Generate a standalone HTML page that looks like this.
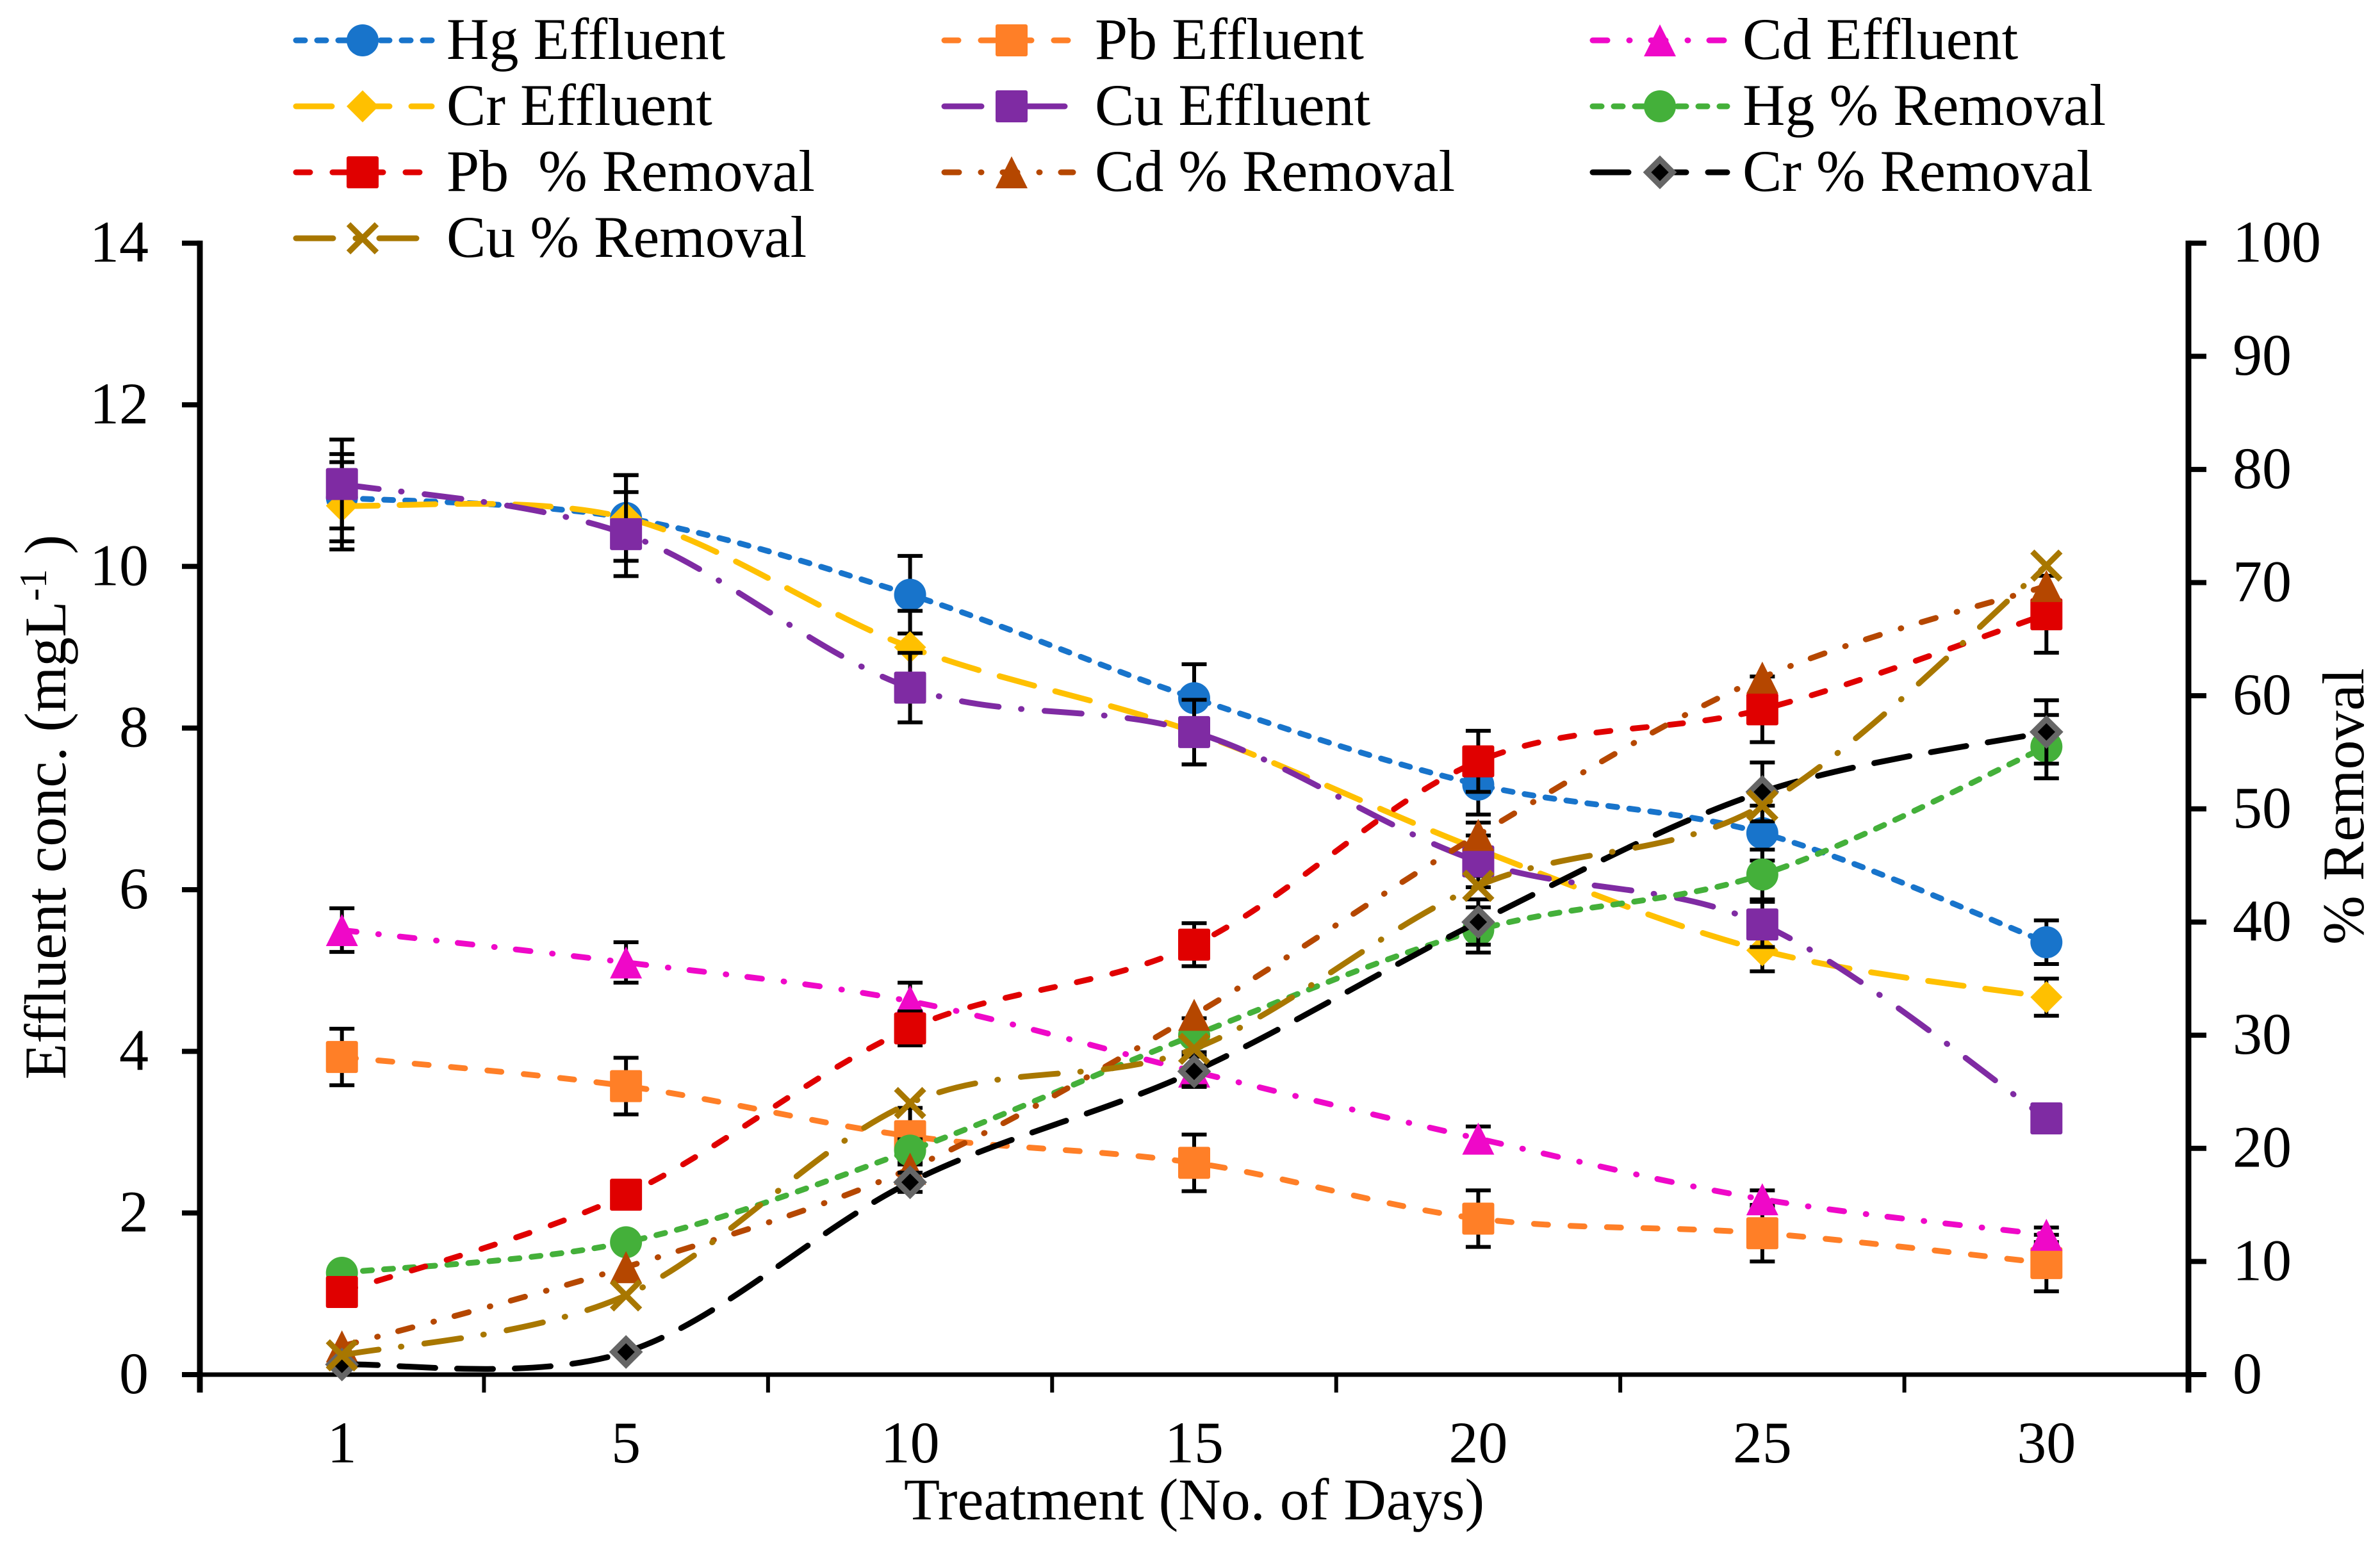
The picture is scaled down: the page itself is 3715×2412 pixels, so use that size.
<!DOCTYPE html>
<html lang="en">
<head>
<meta charset="utf-8">
<title>Effluent concentration and percent removal</title>
<style>
html,body{margin:0;padding:0;background:#fff;}
svg{display:block;}
text{font-family:"Liberation Serif",serif;fill:#000;}
</style>
</head>
<body>
<svg id="chart" xmlns="http://www.w3.org/2000/svg" width="3715" height="2412" viewBox="0 0 3715 2412">
  <rect width="3715" height="2412" fill="#fff"/>
  <text x="1864" y="2372" font-size="92" text-anchor="middle">Treatment (No. of Days)</text>
  <text x="0" y="0" font-size="92" text-anchor="middle" transform="translate(102 1260) rotate(-90)">Effluent conc. (mgL<tspan font-size="60" dy="-30">-1</tspan><tspan dy="30"> )</tspan></text>
  <text x="0" y="0" font-size="92" text-anchor="middle" transform="translate(3689 1259) rotate(-90)">% Removal</text>
</svg>
<script>
const days = ['1','5','10','15','20','25','30'];
const leftTicks = [0,2,4,6,8,10,12,14];
const rightTicks = [0,10,20,30,40,50,60,70,80,90,100];

const hgEffluent = [10.85,10.6,9.65,8.37,7.3,6.7,5.35];
const pbEffluent = [3.93,3.57,2.95,2.62,1.93,1.75,1.38];
const cdEffluent = [5.5,5.1,4.62,3.75,2.92,2.17,1.73];
const crEffluent = [10.75,10.6,9.0,7.95,6.5,5.25,4.67];
const cuEffluent = [11.02,10.4,8.5,7.95,6.35,5.57,3.17];
const hgRemoval = [9.0,11.7,19.8,30,39.3,44.2,55.5];
const pbRemoval = [7.3,15.9,30.6,38,54.2,58.8,67.2];
const cdRemoval = [2.5,9.5,18.2,31.8,47.7,61.6,69.7];
const crRemoval = [0.9,2,17,26.8,40,51.5,56.8];
const cuRemoval = [1.7,7,24,28.8,43.2,50.3,71.5];

const hgEffluentErr = [0.54,0.53,0.48,0.42,0.37,0.34,0.27];
const pbEffluentErr = [0.35,0.35,0.35,0.35,0.35,0.35,0.35];
const cdEffluentErr = [0.27,0.25,0.23,0.19,0.15,0.11,0.09];
const crEffluentErr = [0.54,0.53,0.45,0.40,0.33,0.26,0.23];
const cuEffluentErr = [0.55,0.52,0.43,0.40,0.32,0.28,0.16];
const hgRemovalErr = [0.45,0.6,1,1.5,2,2.2,2.8];
const pbRemovalErr = [0.37,0.8,1.5,1.9,2.7,2.9,3.4];
const cdRemovalErr = [0,0,0,0,0,0,0];
const crRemovalErr = [0.05,0.1,0.85,1.3,2,2.6,2.8];
const cuRemovalErr = [0,0,0,0,0,0,0];

const seriesList = [
  {key:'hg-effluent',label:'Hg Effluent',values:hgEffluent,errs:hgEffluentErr,axis:'left',color:'#1874cb',dash:'14 19',marker:'circle'},
  {key:'pb-effluent',label:'Pb Effluent',values:pbEffluent,errs:pbEffluentErr,axis:'left',color:'#ff7f27',dash:'22 35',marker:'square'},
  {key:'cd-effluent',label:'Cd Effluent',values:cdEffluent,errs:cdEffluentErr,axis:'left',color:'#ef08c8',dash:'23 34 1 33',marker:'triangle'},
  {key:'cr-effluent',label:'Cr Effluent',values:crEffluent,errs:crEffluentErr,axis:'left',color:'#ffc000',dash:'56 34',marker:'diamond'},
  {key:'cu-effluent',label:'Cu Effluent',values:cuEffluent,errs:cuEffluentErr,axis:'left',color:'#7f2ba3',dash:'58 35 1 36',marker:'square'},
  {key:'hg-removal',label:'Hg % Removal',values:hgRemoval,errs:hgRemovalErr,axis:'right',color:'#44b03a',dash:'14 19',marker:'circle'},
  {key:'pb-removal',label:'Pb  % Removal',values:pbRemoval,errs:pbRemovalErr,axis:'right',color:'#e00000',dash:'22 35',marker:'square'},
  {key:'cd-removal',label:'Cd % Removal',values:cdRemoval,errs:cdRemovalErr,axis:'right',color:'#b54700',dash:'23 34 1 33',marker:'triangle'},
  {key:'cr-removal',label:'Cr % Removal',values:crRemoval,errs:crRemovalErr,axis:'right',color:'#000000',dash:'56 34',marker:'grayDiamond'},
  {key:'cu-removal',label:'Cu % Removal',values:cuRemoval,errs:cuRemovalErr,axis:'right',color:'#a87700',dash:'58 35 1 36',marker:'cross'}
];
const legendOrder = ['hg-effluent','pb-effluent','cd-effluent','cr-effluent','cu-effluent','hg-removal','pb-removal','cd-removal','cr-removal','cu-removal'];

const NS = 'http://www.w3.org/2000/svg';
const svg = document.getElementById('chart');
const plot = {left:312, right:3416, top:379.6, bottom:2146};

function xScale(i){ return plot.left + (plot.right - plot.left) / days.length * (i + 0.5); }
function yLeft(v){ return plot.bottom - (plot.bottom - plot.top) * v / 14; }
function yRight(v){ return plot.bottom - (plot.bottom - plot.top) * v / 100; }

function make(tag, attrs, parent){
  const e = document.createElementNS(NS, tag);
  for (const k in attrs) e.setAttribute(k, attrs[k]);
  (parent || svg).appendChild(e);
  return e;
}

function smoothPath(pts){
  let d = 'M' + pts[0][0] + ' ' + pts[0][1];
  for (let i = 0; i < pts.length - 1; i++){
    const p0 = pts[Math.max(i - 1, 0)], p1 = pts[i], p2 = pts[i + 1], p3 = pts[Math.min(i + 2, pts.length - 1)];
    const c1x = p1[0] + (p2[0] - p0[0]) / 6, c1y = p1[1] + (p2[1] - p0[1]) / 6;
    const c2x = p2[0] - (p3[0] - p1[0]) / 6, c2y = p2[1] - (p3[1] - p1[1]) / 6;
    d += ' C' + c1x + ' ' + c1y + ' ' + c2x + ' ' + c2y + ' ' + p2[0] + ' ' + p2[1];
  }
  return d;
}

function drawMarker(kind, cx, cy, color, parent){
  const r = 25;
  let m;
  if (kind === 'circle'){
    m = make('circle', {cx:cx, cy:cy, r:r, fill:color}, parent);
  } else if (kind === 'square'){
    m = make('rect', {x:cx - r, y:cy - r, width:2 * r, height:2 * r, rx:3, fill:color}, parent);
  } else if (kind === 'triangle'){
    m = make('polygon', {points:(cx) + ',' + (cy - r) + ' ' + (cx + r) + ',' + (cy + r) + ' ' + (cx - r) + ',' + (cy + r), fill:color}, parent);
  } else if (kind === 'diamond'){
    m = make('polygon', {points:cx + ',' + (cy - r) + ' ' + (cx + r) + ',' + cy + ' ' + cx + ',' + (cy + r) + ' ' + (cx - r) + ',' + cy, fill:color}, parent);
  } else if (kind === 'grayDiamond'){
    const q = 20;
    m = make('polygon', {points:cx + ',' + (cy - q) + ' ' + (cx + q) + ',' + cy + ' ' + cx + ',' + (cy + q) + ' ' + (cx - q) + ',' + cy, fill:'#000', stroke:'#666', 'stroke-width':9}, parent);
  } else {
    const q = 22;
    m = make('path', {d:'M' + (cx - q) + ' ' + (cy - q) + 'L' + (cx + q) + ' ' + (cy + q) + 'M' + (cx + q) + ' ' + (cy - q) + 'L' + (cx - q) + ' ' + (cy + q), fill:'none', stroke:color, 'stroke-width':9}, parent);
  }
  
  
  return m;
}

/* axes */
const axes = make('g', {stroke:'#000', fill:'none'});


const leftLine = make('line', {x1:plot.left, y1:plot.top - 4, x2:plot.left, y2:plot.bottom + 28, 'stroke-width':9}, axes);


const rightLine = make('line', {x1:plot.right, y1:plot.top - 4, x2:plot.right, y2:plot.bottom + 28, 'stroke-width':9}, axes);


const xLine = make('line', {x1:plot.left, y1:plot.bottom, x2:plot.right, y2:plot.bottom, 'stroke-width':7}, axes);



leftTicks.forEach(function(v){
  const y = yLeft(v);
  const t = make('line', {x1:plot.left - 28, y1:y, x2:plot.left, y2:y, 'stroke-width':8}, axes);
  
  
  const l = make('text', {x:232, y:y + 29, 'font-size':92, 'text-anchor':'end', stroke:'none'});
  
  
  l.textContent = v;
});
rightTicks.forEach(function(v){
  const y = yRight(v);
  const t = make('line', {x1:plot.right, y1:y, x2:plot.right + 28, y2:y, 'stroke-width':8}, axes);
  
  
  const l = make('text', {x:3485, y:y + 29, 'font-size':92, stroke:'none'});
  
  
  l.textContent = v;
});
for (let i = 1; i < days.length; i++){
  const x = plot.left + (plot.right - plot.left) / days.length * i;
  const t = make('line', {x1:x, y1:plot.bottom, x2:x, y2:plot.bottom + 28, 'stroke-width':6}, axes);
  
  
}
days.forEach(function(d, i){
  const l = make('text', {x:xScale(i), y:2283, 'font-size':92, 'text-anchor':'middle'});
  
  
  l.textContent = d;
});

/* series */
seriesList.forEach(function(s){
  const yFn = s.axis === 'left' ? yLeft : yRight;
  const g = make('g', {});
  
  
  s.values.forEach(function(v, i){
    if (!s.errs[i]) return;
    const x = xScale(i);
    const hi = yFn(v + s.errs[i]);
    const lo = yFn(v - s.errs[i]);
    const e = make('path', {d:'M' + x + ' ' + hi + 'V' + lo + 'M' + (x - 19.5) + ' ' + hi + 'H' + (x + 19.5) + 'M' + (x - 19.5) + ' ' + lo + 'H' + (x + 19.5), fill:'none', stroke:'#000', 'stroke-width':6}, g);
    
    
  });
  const pts = s.values.map(function(v, i){ return [xScale(i), yFn(v)]; });
  const line = make('path', {d:smoothPath(pts), fill:'none', stroke:s.color, 'stroke-width':9, 'stroke-linecap':'round', 'stroke-dasharray':s.dash}, g);
  
  
  pts.forEach(function(p){
    drawMarker(s.marker, p[0], p[1], s.color, g);
  });
});

/* legend */
const legendCols = [{x1:458, x2:678, mx:566, tx:697}, {x1:1470, x2:1679, mx:1579, tx:1709}, {x1:2482, x2:2700, mx:2591, tx:2720}];
const legendRows = [63, 166, 269, 372];
const legend = make('g', {});


legendOrder.forEach(function(key, n){
  const s = seriesList.find(function(q){ return q.key === key; });
  const col = legendCols[n % 3];
  const cy = legendRows[Math.floor(n / 3)];
  const g = make('g', {}, legend);
  
  
  const sw = make('line', {x1:col.x1 + 4, y1:cy, x2:col.x2 - 4, y2:cy, stroke:s.color, 'stroke-width':9, 'stroke-linecap':'round', 'stroke-dasharray':s.dash}, g);
  
  
  drawMarker(s.marker, col.mx, cy, s.color, g);
  const t = make('text', {x:col.tx, y:cy + 29, 'font-size':92, 'xml:space':'preserve', style:'white-space:pre'}, g);
  
  
  t.textContent = s.label;
});
</script>
</body>
</html>
